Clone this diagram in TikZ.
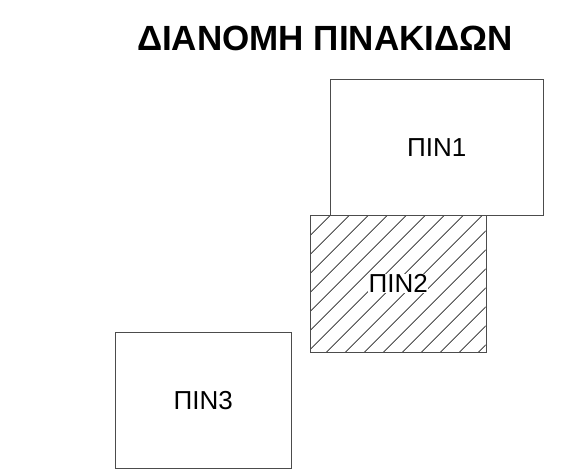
\documentclass[tikz,border=0pt]{standalone}
\usepackage{fontspec}
\setmainfont{Liberation Sans}
\begin{document}
\begin{tikzpicture}[x=1pt,y=1pt,
  panel/.style={draw=black!70,line width=0.9pt,fill=white,inner sep=0pt,font=\fontsize{26}{30}\selectfont},
  hatchline/.style={draw=black!85,line width=0.7pt}]
\useasboundingbox (0,0) rectangle (566,476);
\fill[white] (0,0) rectangle (566,476);
\node[font=\bfseries\fontsize{35}{40}\selectfont] (title) at (325,438) {ΔΙΑΝΟΜΗ ΠΙΝΑΚΙΔΩΝ};
% box 1
\node[panel,minimum width=213.5pt,minimum height=135.7pt,anchor=south west] (p1) at (329.5,260.3) {ΠΙΝ1};
% box 2 hatched
\coordinate (b2sw) at (310,123.3);
\coordinate (b2ne) at (485.7,260.3);
\fill[white] (b2sw) rectangle (b2ne);
\begin{scope}
\clip (b2sw) rectangle (b2ne);
\foreach \k in {-1,...,16}{
  \pgfmathsetmacro{\c}{69.7+19*\k}
  \draw[hatchline] (\c+100,100) -- (\c+300,300);
}
\end{scope}
\node[panel,fill=none,minimum width=175.7pt,minimum height=137pt,anchor=south west] (p2) at (b2sw) {};
\node[font=\fontsize{26}{30}\selectfont,fill=white,inner sep=0.5pt] (t2) at (p2.center) {ΠΙΝ2};
% box 3
\node[panel,minimum width=175.7pt,minimum height=136.3pt,anchor=south west] (p3) at (115,7) {ΠΙΝ3};
\end{tikzpicture}
\end{document}
